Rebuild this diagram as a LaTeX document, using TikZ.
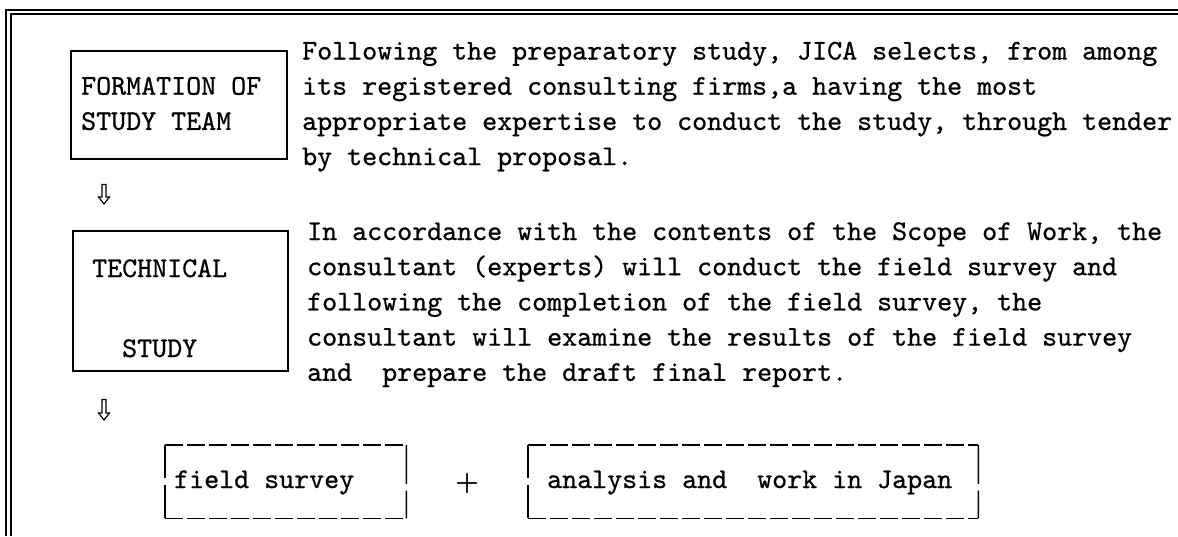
\documentclass[tikz,border=0pt]{standalone}
\usepackage{fontspec}
\usetikzlibrary{calc}
% typewriter face used for every label, slightly heavier than the regular cut
\newfontfamily\twfont{lmmono10-regular}[Extension=.otf, FakeBold=0.7]
% roman face for the plus sign between the two components
\newfontfamily\plusfont{lmroman10-regular}[Extension=.otf, FakeBold=1.2]
\newcommand\monofont{\fontsize{28.57pt}{35.2pt}\selectfont\twfont}
% stacked lines whose first baseline is the node baseline
\newcommand\lines[1]{\begin{tabular}[t]{@{}l@{}}#1\end{tabular}}
% outlined downward arrow between two coordinates
\newcommand\hollowdown[2]{%
  \draw[hollow] ($(#1)+(-2,0)$) -- ($(#1)+(2,0)$) -- ($(#2)+(2,-7)$)
    -- ($(#2)+(5.5,-7)$) -- (#2) -- ($(#2)+(-5.5,-7)$) -- ($(#2)+(-2,-7)$) -- cycle;}
% box with dashed top and bottom and broken sides
\newcommand\dashframe[1]{%
  \draw[dashrun] (#1.north west) -- (#1.north east);
  \draw[dashrun] (#1.south west) -- (#1.south east);
  \draw[stroke] (#1.north west) -- ($(#1.north west)!0.45!(#1.south west)$);
  \draw[stroke] ($(#1.north west)!0.55!(#1.south west)$) -- (#1.south west);
  \draw[stroke] (#1.north east) -- ($(#1.north east)!0.53!(#1.south east)$);
  \draw[stroke] ($(#1.north east)!0.62!(#1.south east)$) -- (#1.south east);}
\begin{document}
\begin{tikzpicture}[x=1pt,y=-1pt,
  txt/.style={inner sep=0pt, anchor=base west, font=\monofont},
  stroke/.style={line width=1.5pt},
  frameline/.style={line width=1.3pt},
  solidbox/.style={draw, stroke, inner sep=0pt, anchor=north west},
  openbox/.style={inner sep=0pt, anchor=north west},
  dashrun/.style={stroke, dash pattern=on 18pt off 4pt},
  hollow/.style={line width=1.2pt, line join=miter}]
\useasboundingbox (0,0) rectangle (1178,536);

% double rule along the top and the left edge
\draw[frameline] (6,536) -- (6,10) -- (1178,10);
\draw[frameline] (11,536) -- (11,14) -- (1178,14);

% step 1
\node[solidbox, minimum width=216pt, minimum height=108pt] (fst) at (70,50) {};
\node[txt] (fstlabel) at (81,94.7) {\lines{FORMATION OF\\STUDY TEAM}};
\node[txt] (p1) at (302,59.5) {\lines{Following the preparatory study, JICA selects, from among\\its registered consulting firms,a having the most\\appropriate expertise to conduct the study, through tender\\by technical proposal.}};

% step 2
\node[solidbox, minimum width=215pt, minimum height=140pt] (tst) at (72,230) {};
\node[txt] (tslabela) at (92,277) {TECHNICAL};
\node[txt] (tslabelb) at (122,357) {STUDY};
\node[txt] (p2) at (307,240) {\lines{In accordance with the contents of the Scope of Work, the\\consultant (experts) will conduct the field survey and\\following the completion of the field survey, the\\consultant will examine the results of the field survey\\and\ \ prepare the draft final report.}};

% components of the study
\node[openbox, minimum width=241pt, minimum height=73pt] (fs) at (165,445) {};
\dashframe{fs}
\node[txt] (fslabel) at (174,488) {field survey};
\node[inner sep=0pt, font=\fontsize{30pt}{35pt}\selectfont\plusfont] (plus) at (467,483) {+};
\node[openbox, minimum width=450pt, minimum height=73pt] (aj) at (528,445) {};
\dashframe{aj}
\node[txt] (ajlabel) at (547,488) {analysis and\ \ work in Japan};

% arrows between the steps
\coordinate (a1top) at ($(fst.south west)+(34,25)$);
\coordinate (a1bot) at ($(tst.north west)+(32,-26)$);
\hollowdown{a1top}{a1bot}
\coordinate (a2top) at ($(tst.south west)+(32,28)$);
\coordinate (a2bot) at ($(fs.north west)+(-61,-25)$);
\hollowdown{a2top}{a2bot}
\end{tikzpicture}
\end{document}
